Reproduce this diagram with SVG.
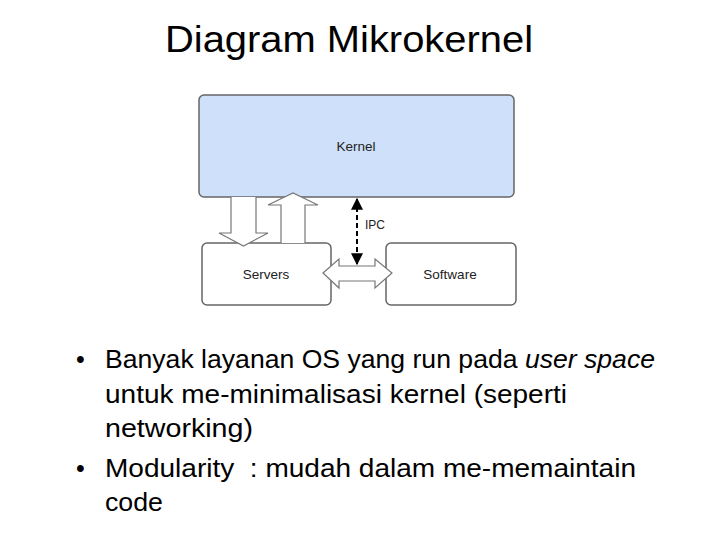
<svg xmlns="http://www.w3.org/2000/svg" width="720" height="540" viewBox="0 0 720 540">
<style>
.box{fill:#fff;stroke:#666;stroke-width:1.5}
.arr{fill:#fff;stroke:#777;stroke-width:1.2}
.lbl{font-family:"Liberation Sans",Arial,sans-serif;font-size:13.5px;fill:#222;text-anchor:middle}
.b{font-family:"Liberation Sans",Arial,sans-serif;font-size:25px;fill:#000}
</style>
<defs>
<marker id="ah" viewBox="0 0 10 10" refX="9" refY="5" markerWidth="6" markerHeight="6" orient="auto-start-reverse"><path d="M0,0L10,5L0,10z" fill="#000"/></marker>
</defs>
<rect width="720" height="540" fill="#fff"/>
<text x="165" y="52" font-family="'Liberation Sans',Arial,sans-serif" font-size="36" fill="#000" textLength="368" lengthAdjust="spacingAndGlyphs">Diagram Mikrokernel</text>
<g id="kernel"><rect class="box" x="199" y="95" width="315" height="102" rx="5" style="fill:#cfe0fa"/><text class="lbl" x="356" y="151">Kernel</text></g>
<g id="servers"><rect class="box" x="202" y="243" width="129" height="62" rx="5"/><text class="lbl" x="266" y="279">Servers</text></g>
<g id="software"><rect class="box" x="386" y="243" width="130" height="62" rx="5"/><text class="lbl" x="450" y="279">Software</text></g>
<g id="connectors">
<path class="arr" d="M231,197V233H219L243.5,246L268,233H256V197"/>
<path class="arr" d="M281,243V205H268L293,193L318,205H305V243"/>
<path class="arr" d="M323,273L339,259V266H375V259L392,273L375,288V281H339V288Z"/>
<line x1="357" y1="199" x2="357" y2="264" stroke="#000" stroke-width="2" stroke-dasharray="5,3" marker-start="url(#ah)" marker-end="url(#ah)"/>
<text class="lbl" x="375" y="229" style="font-size:12px">IPC</text>
</g>
<g id="bullets">
<text class="b" x="76" y="368">•</text>
<text class="b" x="105" y="368" textLength="550" lengthAdjust="spacingAndGlyphs">Banyak layanan OS yang run pada <tspan font-style="italic">user space</tspan></text>
<text class="b" x="105" y="403" textLength="462" lengthAdjust="spacingAndGlyphs">untuk me-minimalisasi kernel (seperti</text>
<text class="b" x="105" y="437" textLength="148" lengthAdjust="spacingAndGlyphs">networking)</text>
<text class="b" x="76" y="477">•</text>
<text class="b" x="105" y="477" textLength="531" lengthAdjust="spacingAndGlyphs" xml:space="preserve">Modularity  : mudah dalam me-memaintain</text>
<text class="b" x="105" y="511" textLength="58" lengthAdjust="spacingAndGlyphs">code</text>
</g>
</svg>
